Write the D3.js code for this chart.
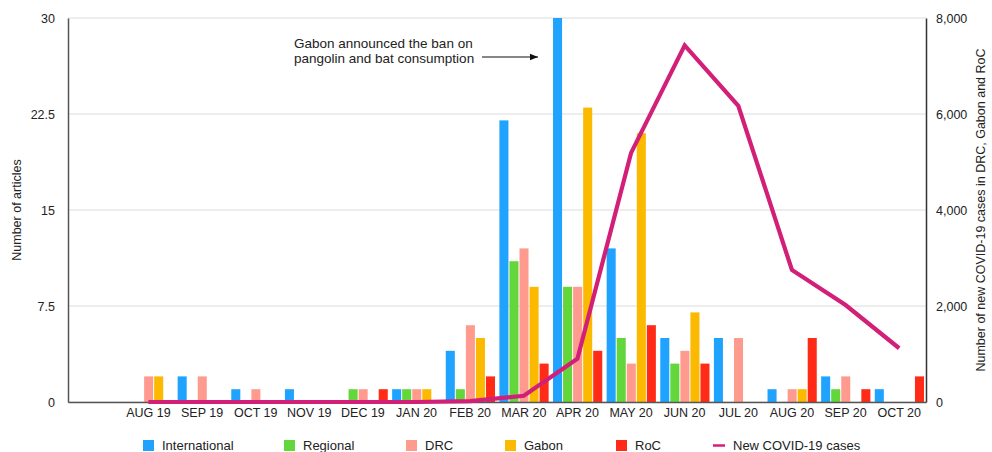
<!DOCTYPE html>
<html>
<head>
<meta charset="utf-8">
<script src="https://cdn.jsdelivr.net/npm/d3@7"></script>
<style>
  body { margin: 0; background: #fff; }
  text { font-family: "Liberation Sans", Arial, sans-serif; fill: #222; }
</style>
</head>
<body>
<div id="chart"></div>
<script>
// months on the x axis (first slot is left empty in the original)
const months = ['', 'AUG 19', 'SEP 19', 'OCT 19', 'NOV 19', 'DEC 19', 'JAN 20', 'FEB 20',
  'MAR 20', 'APR 20', 'MAY 20', 'JUN 20', 'JUL 20', 'AUG 20', 'SEP 20', 'OCT 20'];

// number of articles per source
const international = [0, 0, 2, 1, 1, 0, 1, 4, 22, 30, 12, 5, 5, 1, 2, 1];
const regional      = [0, 0, 0, 0, 0, 1, 1, 1, 11, 9, 5, 3, 0, 0, 1, 0];
const drc           = [0, 2, 2, 1, 0, 1, 1, 6, 12, 9, 3, 4, 5, 1, 2, 0];
const gabon         = [0, 2, 0, 0, 0, 0, 1, 5, 9, 23, 21, 7, 0, 1, 0, 0];
const roc           = [0, 0, 0, 0, 0, 1, 0, 2, 3, 4, 6, 3, 0, 5, 1, 2];

// new COVID-19 cases (DRC, Gabon, RoC)
const newCases = [null, 0, 0, 0, 0, 0, 0, 20, 130, 900, 5190, 7430, 6170, 2750, 2020, 1120];

const leftTicks = [0, 7.5, 15, 22.5, 30];
const rightTicks = [0, 2000, 4000, 6000, 8000];

const seriesNames = ['International', 'Regional', 'DRC', 'Gabon', 'RoC'];
const seriesValues = [international, regional, drc, gabon, roc];
const colors = ['#1fa3ff', '#62d63a', '#ff9b8e', '#fbb900', '#ff2b16'];
const lineColor = '#d21f78';

const width = 992, height = 452;
const margin = { top: 18, right: 66, bottom: 50, left: 68 };

const svg = d3.select('#chart').append('svg')
  .attr('width', width).attr('height', height);

const x = d3.scaleBand()
  .domain(d3.range(months.length))
  .range([margin.left, width - margin.right])
  .padding(0);

const xInner = d3.scaleBand()
  .domain(d3.range(seriesNames.length))
  .range([2.4, x.bandwidth() - 2])
  .paddingInner(0.1);

const y = d3.scaleLinear()
  .domain([0, 30])
  .range([height - margin.bottom, margin.top]);

const y2 = d3.scaleLinear()
  .domain([0, 8000])
  .range([height - margin.bottom, margin.top]);

// grid lines
svg.append('g')
  .selectAll('line')
  .data(leftTicks)
  .join('line')
    .attr('x1', margin.left).attr('x2', width - margin.right)
    .attr('y1', d => y(d)).attr('y2', d => y(d))
    .attr('stroke', '#dcdcdc').attr('stroke-width', 1);

// bars
const groups = svg.append('g')
  .selectAll('g')
  .data(months.map((m, i) => i))
  .join('g')
    .attr('transform', i => `translate(${x(i)},0)`);

groups.selectAll('rect')
  .data(i => seriesValues.map((vals, s) => ({ s: s, v: vals[i] })).filter(d => d.v > 0))
  .join('rect')
    .attr('x', d => xInner(d.s))
    .attr('y', d => y(d.v))
    .attr('width', xInner.bandwidth())
    .attr('height', d => y(0) - y(d.v))
    .attr('fill', d => colors[d.s]);

// axes
function leftAxis(g) {
  g.attr('transform', `translate(${margin.left},0)`)
    .call(d3.axisLeft(y).tickValues(leftTicks).tickSize(0).tickPadding(13)
      .tickFormat(d => d))
    .attr('font-size', '12.5px');
  g.select('.domain').attr('stroke', '#555').attr('stroke-width', 1.5);
}

function rightAxis(g) {
  g.attr('transform', `translate(${width - margin.right},0)`)
    .call(d3.axisRight(y2).tickValues(rightTicks).tickSize(0).tickPadding(10)
      .tickFormat(d3.format(',')))
    .attr('font-size', '12.5px');
  g.select('.domain').attr('stroke', '#333').attr('stroke-width', 1.5);
}

function bottomAxis(g) {
  g.attr('transform', `translate(0,${height - margin.bottom})`)
    .call(d3.axisBottom(x).tickSize(0).tickPadding(6).tickFormat(i => months[i]))
    .attr('font-size', '12.5px');
  g.select('.domain').attr('stroke', '#555').attr('stroke-width', 1.5);
}

svg.append('g').call(leftAxis);
svg.append('g').call(rightAxis);
svg.append('g').call(bottomAxis);
svg.selectAll('.tick text').attr('fill', '#222').style('font-family', '"Liberation Sans", Arial, sans-serif');

// covid line
const line = d3.line()
  .defined(d => d !== null)
  .x((d, i) => x(i) + x.bandwidth() / 2)
  .y(d => y2(d));

svg.append('path')
  .datum(newCases)
  .attr('fill', 'none')
  .attr('stroke', lineColor)
  .attr('stroke-width', 4.2)
  .attr('stroke-linejoin', 'miter')
  .attr('d', line);

// axis titles
svg.append('text')
  .attr('transform', `translate(21,${(y(0) + y(30)) / 2}) rotate(-90)`)
  .attr('text-anchor', 'middle')
  .attr('font-size', '12.5px')
  .text('Number of articles');

svg.append('text')
  .attr('transform', `translate(985,${(y(0) + y(30)) / 2}) rotate(-90)`)
  .attr('text-anchor', 'middle')
  .attr('font-size', '12.5px')
  .text('Number of new COVID-19 cases in DRC, Gabon and RoC');

// annotation
const note = svg.append('text')
  .attr('x', 294).attr('y', 48)
  .attr('font-size', '13.5px');
note.append('tspan').attr('x', 294).attr('dy', 0).text('Gabon announced the ban on');
note.append('tspan').attr('x', 294).attr('dy', 15).text('pangolin and bat consumption');

svg.append('defs').append('marker')
  .attr('id', 'arrow')
  .attr('viewBox', '0 0 10 10')
  .attr('refX', 10).attr('refY', 5)
  .attr('markerWidth', 7).attr('markerHeight', 7)
  .attr('orient', 'auto')
  .append('path')
    .attr('d', 'M0,1 L10,5 L0,9 z')
    .attr('fill', '#111');

svg.append('line')
  .attr('x1', 482).attr('y1', 57)
  .attr('x2', 538).attr('y2', 57)
  .attr('stroke', '#111').attr('stroke-width', 1.2)
  .attr('marker-end', 'url(#arrow)');

// legend
const legendX = [143, 284, 406, 505, 616];
const legend = svg.append('g');
seriesNames.forEach((name, i) => {
  legend.append('rect')
    .attr('x', legendX[i]).attr('y', 440)
    .attr('width', 11).attr('height', 11)
    .attr('fill', colors[i]);
  legend.append('text')
    .attr('x', legendX[i] + 19).attr('y', 450)
    .attr('font-size', '13px')
    .text(name);
});
legend.append('line')
  .attr('x1', 713).attr('x2', 725)
  .attr('y1', 445.5).attr('y2', 445.5)
  .attr('stroke', lineColor).attr('stroke-width', 2.5);
legend.append('text')
  .attr('x', 733).attr('y', 450)
  .attr('font-size', '13px')
  .text('New COVID-19 cases');
</script>
</body>
</html>
